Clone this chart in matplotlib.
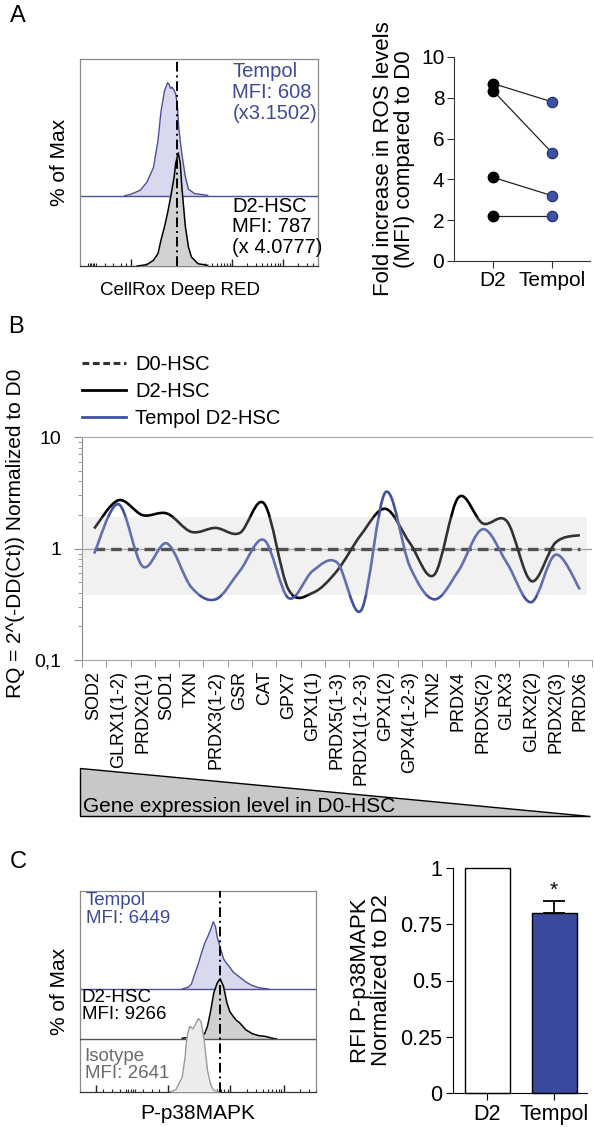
import numpy as np
import matplotlib as mpl
mpl.use('Agg')
import matplotlib.pyplot as plt
from matplotlib.path import Path
from matplotlib.patches import PathPatch, Polygon
from matplotlib.lines import Line2D

mpl.rcParams['font.family'] = ['Liberation Sans', 'DejaVu Sans']

# ---------------- data ----------------
# panel A, flow histogram (x in decades, y in % of max)
a_tempol_x = [0.88, 1.01, 1.19, 1.32, 1.45, 1.54, 1.60, 1.67, 1.73, 1.76, 1.79, 1.82, 1.86, 1.89,
              1.92, 1.95, 2.01, 2.08, 2.14, 2.26, 2.52]
a_tempol_y = [0, 1.5, 5, 12, 25, 49, 75, 93, 100, 98.5, 95, 96, 93, 90, 81, 60, 37, 17, 6, 2, 0.5]
a_d2_x = [1.13, 1.32, 1.45, 1.54, 1.60, 1.67, 1.73, 1.79, 1.86, 1.89, 1.94, 1.98, 2.01, 2.08, 2.14,
          2.20, 2.33, 2.52]
a_d2_y = [0, 1.2, 5, 11, 23, 35, 47, 61, 79, 91, 100, 91, 70, 35, 17, 8, 2, 0.6]
a_mfi_line = 1.91

# panel A, fold increase in ROS
ros_groups = ['D2', 'Tempol']
ros_d2 = [8.7, 8.35, 4.1, 2.2]
ros_tempol = [7.8, 5.3, 3.2, 2.2]

# panel B, RQ per gene
genes = ['SOD2', 'GLRX1(1-2)', 'PRDX2(1)', 'SOD1', 'TXN', 'PRDX3(1-2)', 'GSR', 'CAT', 'GPX7',
         'GPX1(1)', 'PRDX5(1-3)', 'PRDX1(1-2-3)', 'GPX1(2)', 'GPX4(1-2-3)', 'TXN2', 'PRDX4',
         'PRDX5(2)', 'GLRX3', 'GLRX2(2)', 'PRDX2(3)', 'PRDX6']
rq_d0 = [1.0] * len(genes)
rq_d2 = [1.51, 2.71, 1.99, 2.06, 1.41, 1.53, 1.38, 2.53, 0.43, 0.40, 0.63, 1.34, 2.27, 1.12,
         0.58, 2.87, 1.68, 1.75, 0.51, 1.13, 1.32]
rq_tempol = [0.90, 2.50, 0.69, 1.11, 0.45, 0.35, 0.63, 1.19, 0.36, 0.63, 0.75, 0.28, 3.20, 0.69,
             0.35, 0.63, 1.49, 0.74, 0.33, 0.88, 0.43]
band_low, band_high = 0.38, 1.9

# panel C, flow histogram
c_tempol_x = [1.78, 1.89, 1.94, 2.00, 2.06, 2.11, 2.17, 2.22, 2.28, 2.32, 2.36, 2.39, 2.44, 2.50,
              2.56, 2.61, 2.67, 2.78, 2.89, 3.00, 3.11, 3.28]
c_tempol_y = [0, 2.9, 7, 22, 36, 50, 65, 74, 86, 96, 89, 74, 60, 43, 36, 31, 24, 17, 10, 5, 2, 0]
c_d2_x = [1.78, 1.94, 2.11, 2.17, 2.22, 2.28, 2.33, 2.39, 2.44, 2.50, 2.56, 2.61, 2.67, 2.72,
          2.78, 2.89, 3.00, 3.11, 3.22, 3.33, 3.42]
c_d2_y = [1, 2.9, 3.8, 7.6, 18, 42, 66, 80, 86, 75, 51, 39, 32, 27, 23, 13, 7.6, 4.8, 3.8, 1.4, 0]
c_iso_x = [1.56, 1.67, 1.78, 1.83, 1.86, 1.91, 1.97, 2.06, 2.11, 2.17, 2.22, 2.28, 2.33, 2.44]
c_iso_y = [0, 3.3, 21, 50, 78, 94, 90, 105, 100, 69, 31, 9.5, 2.4, 0]
c_mfi_line = 2.43

# panel C, bars
bar_labels = ['D2', 'Tempol']
bar_values = [1.0, 0.80]
bar_err = [0.0, 0.055]

# ---------------- layout helpers ----------------
W, H = 594, 1127
BLUE = '#3f51a3'
BLUE_TXT = '#3d4a97'


def box(x0, y0, x1, y1):
    return [x0 / W, 1 - y1 / H, (x1 - x0) / W, (y1 - y0) / H]


def smooth_path(xs, ys):
    # Catmull-Rom style bezier through the points, in log space
    px = np.asarray(xs, float)
    py = np.log10(np.asarray(ys, float))
    n = len(px)
    verts = [(px[0], py[0])]
    codes = [Path.MOVETO]
    for i in range(n - 1):
        i0 = max(i - 1, 0)
        i3 = min(i + 2, n - 1)
        c1 = (px[i] + (px[i + 1] - px[i0]) / 6, py[i] + (py[i + 1] - py[i0]) / 6)
        c2 = (px[i + 1] - (px[i3] - px[i]) / 6, py[i + 1] - (py[i3] - py[i]) / 6)
        verts += [c1, c2, (px[i + 1], py[i + 1])]
        codes += [Path.CURVE4] * 3
    verts = [(x, 10 ** y) for x, y in verts]
    return Path(verts, codes)


def flow_axes(ax, xmax, ymax, majors, minors):
    ax.set_xlim(0, xmax)
    ax.set_ylim(0, ymax)
    for s in ax.spines.values():
        s.set_color('#8a8a8a')
        s.set_linewidth(0.9)
    ax.spines['bottom'].set_color('#333333')
    ax.set_yticks([])
    ax.set_xticks(majors)
    ax.set_xticks(minors, minor=True)
    ax.set_xticklabels([])
    ax.tick_params(axis='x', which='major', direction='in', length=5, width=1, color='#222222')
    ax.tick_params(axis='x', which='minor', direction='in', length=2.5, width=0.8, color='#222222')


def log_minors(majors, lead):
    out = list(lead)
    for a, b in zip(majors[:-1], majors[1:]):
        out += [a + (b - a) * np.log10(k) for k in range(2, 10)]
    return out


fig = plt.figure(figsize=(W / 100, H / 100), dpi=100)

# ---------------- panel A: histogram ----------------
axh = fig.add_axes(box(80, 59, 318, 266))
a_major = [1, 2, 3, 4]
flow_axes(axh, 4.45, 183, a_major,
          log_minors(a_major + [5], [0.16, 0.19, 0.22, 0.25, 0.28, 0.31, 0.5, 0.65, 0.8, 0.9])[:-4])
off_t = 62
axh.fill_between(a_tempol_x, off_t, np.array(a_tempol_y) + off_t, color='#d8d8ef', lw=0, zorder=1)
axh.plot(a_tempol_x, np.array(a_tempol_y) + off_t, color='#4b4f99', lw=1.0, zorder=2)
axh.axhline(off_t, color='#4b4f99', lw=1.0, zorder=2)
axh.fill_between(a_d2_x, 0, a_d2_y, color='#d2d2d2', lw=0, zorder=3)
axh.plot(a_d2_x, a_d2_y, color='black', lw=1.1, zorder=4)
axh.axvline(a_mfi_line, color='black', lw=1.4, ls=(0, (5, 2, 1, 2)), zorder=5)
axh.text(0.64, 0.985, 'Tempol\nMFI: 608\n(x3.1502)', transform=axh.transAxes, va='top', ha='left',
         fontsize=14.5, color=BLUE_TXT, linespacing=1.12, zorder=6)
axh.text(0.64, 0.335, 'D2-HSC\nMFI: 787\n(x 4.0777)', transform=axh.transAxes, va='top', ha='left',
         fontsize=14.5, color='black', linespacing=1.12, zorder=6)
axh.set_ylabel('% of Max', fontsize=15, labelpad=8)
axh.set_xlabel('CellRox Deep RED', fontsize=13.5)
axh.xaxis.set_label_coords(0.42, -0.075)

# ---------------- panel A: dots ----------------
axd = fig.add_axes(box(454, 57, 590, 261))
for d, t in zip(ros_d2, ros_tempol):
    axd.plot([0, 1], [d, t], color='#222222', lw=0.9, zorder=1)
axd.plot([0] * len(ros_d2), ros_d2, 'o', color='black', ms=7.5, zorder=3, clip_on=False)
axd.plot([1] * len(ros_tempol), ros_tempol, 'o', color=BLUE, mec='#1f2a6b', mew=0.8, ms=7.5,
         zorder=3, clip_on=False)
axd.set_xlim(-0.66, 1.64)
axd.set_ylim(0, 10)
axd.set_yticks([0, 2, 4, 6, 8, 10])
axd.set_xticks([0, 1])
axd.set_xticklabels(ros_groups)
axd.spines['top'].set_visible(False)
axd.spines['right'].set_visible(False)
for s in ['left', 'bottom']:
    axd.spines[s].set_color('#333333')
axd.tick_params(labelsize=15, length=5, color='#333333', pad=2)
axd.set_ylabel('Fold increase in ROS levels\n(MFI) compared to D0', fontsize=16, labelpad=4,
               linespacing=1.0)

# ---------------- panel B ----------------
axb = fig.add_axes(box(82, 437, 592, 660))
xs = np.arange(len(genes))
axb.set_yscale('log')
axb.set_ylim(0.1, 10)
axb.set_xlim(-0.5, len(genes) - 0.55)
axb.axhspan(band_low, band_high, xmin=0, xmax=(len(genes) - 0.75 + 0.5) / (len(genes) - 0.05),
            facecolor='#cbcbcb', alpha=0.25, lw=0, zorder=6)
axb.axhline(1, color='#a0a0a0', lw=1.0, zorder=1)
axb.plot(xs, rq_d0, color='#2a2a2a', lw=2.4, ls=(0, (3.2, 1.8)), zorder=3)
axb.add_patch(PathPatch(smooth_path(xs, rq_d2), facecolor='none', edgecolor='black', lw=1.9,
                        zorder=4))
axb.add_patch(PathPatch(smooth_path(xs, rq_tempol), facecolor='none', edgecolor=BLUE, lw=1.9,
                        zorder=5))
axb.spines['right'].set_visible(False)
axb.spines['top'].set_color('#a8a8a8')
axb.spines['bottom'].set_color('#a8a8a8')
axb.spines['left'].set_color('#8a8a8a')
axb.set_yticks([0.1, 1, 10])
axb.set_yticklabels(['0,1', '1', '10'])
axb.tick_params(axis='y', which='major', labelsize=14, length=6, color='#8a8a8a', pad=9)
axb.tick_params(axis='y', which='minor', length=3, color='#8a8a8a')
axb.set_xticks(xs)
axb.set_xticklabels(genes, rotation=90, fontsize=13)
axb.set_xticks(np.arange(-0.5, len(genes), 1.0), minor=True)
axb.tick_params(axis='x', which='major', length=0, pad=8)
axb.tick_params(axis='x', which='minor', length=5, color='#8a8a8a', direction='out')
axb.set_ylabel('RQ = 2^(-DD(Ct)) Normalized to D0', fontsize=15)
axb.yaxis.set_label_coords(-0.112, 0.57)

handles = [Line2D([], [], color='#333333', lw=2.2, ls=(0, (2.2, 1.2))),
           Line2D([], [], color='black', lw=2.0),
           Line2D([], [], color=BLUE, lw=2.0)]
fig.legend(handles, ['D0-HSC', 'D2-HSC', 'Tempol D2-HSC'], loc='upper left',
           bbox_to_anchor=(64 / W, 1 - 337 / H), frameon=False, fontsize=14.5,
           handlelength=2.2, handletextpad=0.45, labelspacing=0.4)

# expression triangle
axt = fig.add_axes(box(80, 768, 590, 816))
axt.set_xlim(0, 1)
axt.set_ylim(0, 1)
axt.axis('off')
axt.add_patch(Polygon([(0, 1), (0, 0), (1, 0)], closed=True, facecolor='#c8c8c8',
                      edgecolor='black', lw=1.0, clip_on=False))
axt.text(0.006, 0.08, 'Gene expression level in D0-HSC', fontsize=15, va='baseline', ha='left')

# ---------------- panel C: histogram ----------------
axc = fig.add_axes(box(80, 891, 316, 1092))
c_major = [0.27, 1.53, 2.62, 3.55]
c_minor = [0.4, 0.55, 0.7, 0.8, 0.84, 0.88, 0.92, 0.96, 1.1, 1.25, 1.38]
c_minor += [a + (b - a) * np.log10(k) for a, b in zip(c_major[1:-1], c_major[2:]) for k in range(2, 10)]
c_minor += [3.55 + 0.93 * np.log10(k) for k in range(2, 5)]
flow_axes(axc, 3.93, 287, c_major, c_minor)
off_ct, off_cd = 147, 75.7
axc.fill_between(c_tempol_x, off_ct, np.array(c_tempol_y) + off_ct, color='#d8d8ef', lw=0, zorder=1)
axc.plot(c_tempol_x, np.array(c_tempol_y) + off_ct, color='#4b4f99', lw=1.0, zorder=2)
axc.axhline(off_ct, color='#4b4f99', lw=1.0, zorder=2)
axc.fill_between(c_d2_x, off_cd, np.array(c_d2_y) + off_cd, color='#d0d0d0', lw=0, zorder=3)
axc.plot(c_d2_x, np.array(c_d2_y) + off_cd, color='black', lw=1.1, zorder=4)
axc.axhline(off_cd, color='#555555', lw=1.0, zorder=4)
axc.fill_between(c_iso_x, 0, c_iso_y, color='#ececec', lw=0, zorder=5)
axc.plot(c_iso_x, c_iso_y, color='#9a9a9a', lw=1.0, zorder=6)
axc.axvline(c_mfi_line, color='black', lw=1.4, ls=(0, (5, 2, 1, 2)), zorder=7)
axc.text(0.025, 0.995, 'Tempol\nMFI: 6449', transform=axc.transAxes, va='top', fontsize=13.5,
         color=BLUE_TXT, linespacing=1.08, zorder=8)
axc.text(0.008, 0.51, 'D2-HSC\nMFI: 9266', transform=axc.transAxes, va='top', fontsize=13.5,
         color='black', linespacing=1.0, zorder=8)
axc.text(0.02, 0.218, 'Isotype\nMFI: 2641', transform=axc.transAxes, va='top', fontsize=13.5,
         color='#6b6b6b', linespacing=1.0, zorder=8)
axc.set_ylabel('% of Max', fontsize=15, labelpad=8)
axc.set_xlabel('P-p38MAPK', fontsize=15, labelpad=5)

# ---------------- panel C: bars ----------------
axr = fig.add_axes(box(453, 868, 587, 1093))
bx = np.arange(len(bar_labels))
axr.bar(bx, bar_values, width=0.67, color=['white', '#3a4b9f'], edgecolor='black', lw=1.0,
        clip_on=False, zorder=2)
axr.errorbar(bx[1], bar_values[1], yerr=[[0], [bar_err[1]]], fmt='none', ecolor='black',
             elinewidth=1.3, capsize=8, capthick=1.3, zorder=3)
axr.text(bx[1], bar_values[1] + bar_err[1] + 0.005, '*', ha='center', va='bottom', fontsize=15)
axr.set_xlim(-0.51, 1.49)
axr.set_ylim(0, 1)
axr.set_yticks([0, 0.25, 0.5, 0.75, 1])
axr.set_yticklabels(['0', '0.25', '0.5', '0.75', '1'])
axr.set_xticks(bx)
axr.set_xticklabels(bar_labels)
axr.spines['top'].set_visible(False)
axr.spines['right'].set_visible(False)
axr.tick_params(labelsize=15.5, length=5, pad=3)
axr.set_ylabel('RFI P-p38MAPK\nNormalized to D2', fontsize=16, labelpad=6, linespacing=1.0)

# panel letters
fig.text(10 / W, 1 - 16 / H, 'A', fontsize=17, va='center')
fig.text(8 / W, 1 - 327 / H, 'B', fontsize=17, va='center')
fig.text(10 / W, 1 - 862 / H, 'C', fontsize=17, va='center')

fig.savefig('out.png', dpi=100)
